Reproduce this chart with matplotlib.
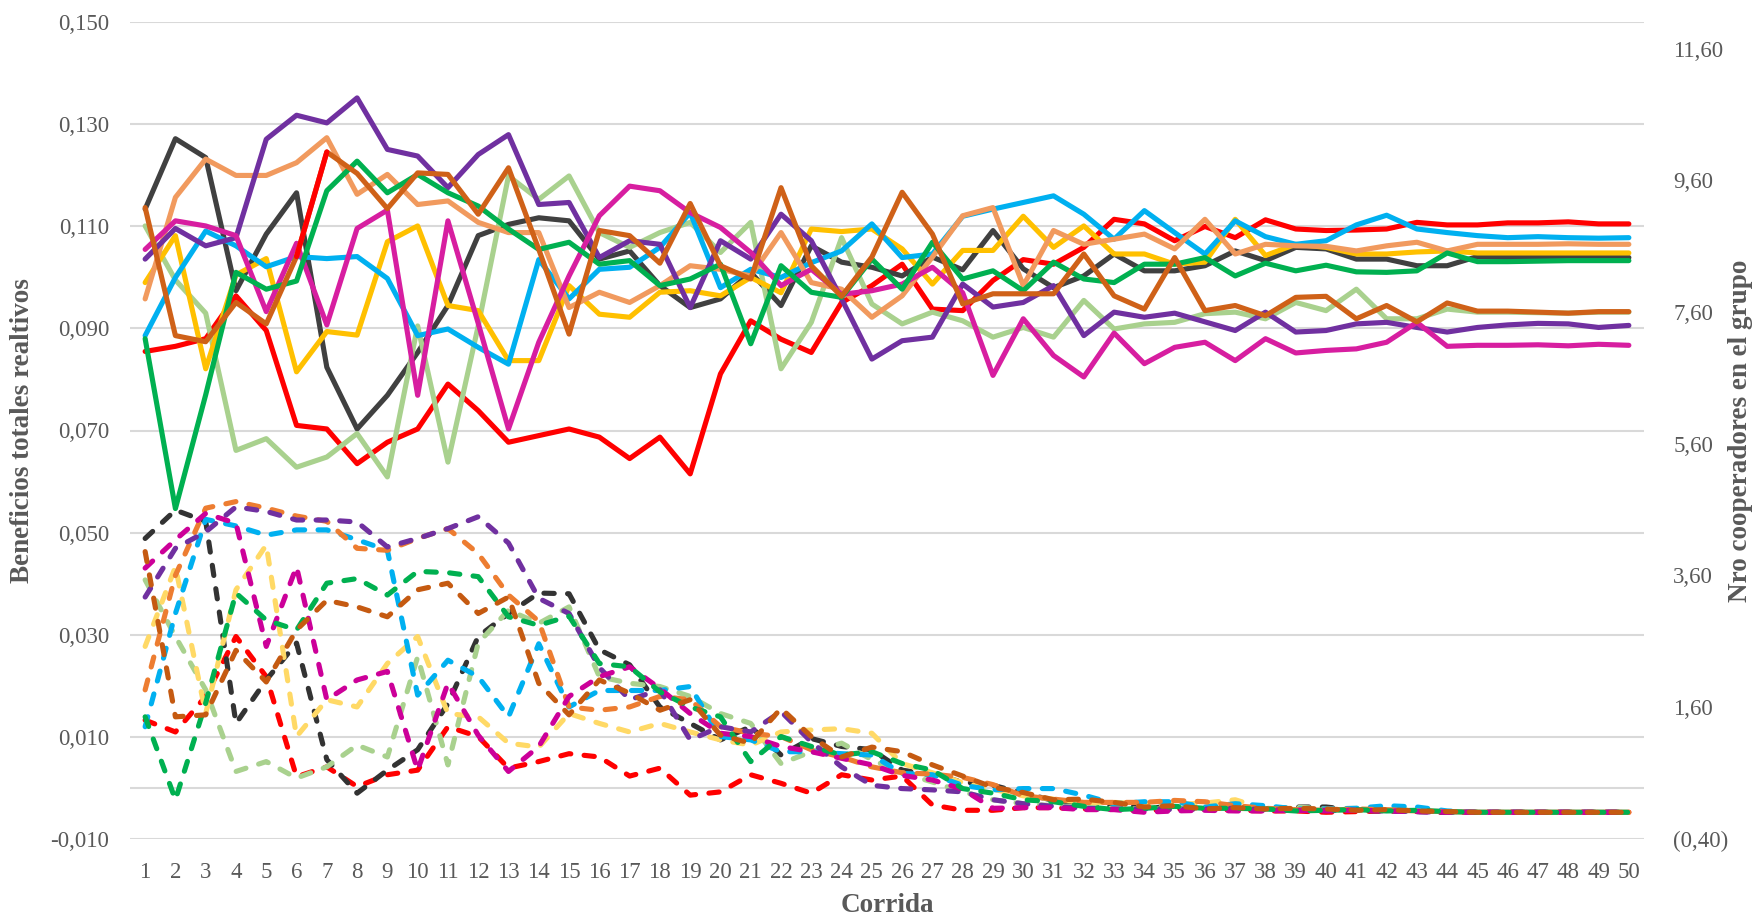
import matplotlib
matplotlib.use("Agg")
import matplotlib.pyplot as plt
from matplotlib.ticker import FuncFormatter, FixedLocator
import numpy as np

# ---------------- data ----------------
corrida = list(range(1, 51))

# Solid lines: beneficios totales relativos (left axis)
ben_red = [0.0855, 0.0865, 0.0880, 0.0964, 0.0896, 0.0710, 0.0703, 0.0635, 0.0677, 0.0703,
           0.0791, 0.0739, 0.0677, 0.0690, 0.0703, 0.0687, 0.0645, 0.0687, 0.0615, 0.0811,
           0.0915, 0.0879, 0.0853, 0.0951, 0.0984, 0.1026, 0.0938, 0.0935, 0.0994, 0.1035,
           0.1026, 0.1059, 0.1114, 0.1105, 0.1072, 0.1100, 0.1078, 0.1113, 0.1095, 0.1092,
           0.1093, 0.1095, 0.1108, 0.1103, 0.1103, 0.1107, 0.1107, 0.1109, 0.1105, 0.1105]
ben_black = [0.1134, 0.1272, 0.1235, 0.0974, 0.1085, 0.1166, 0.0824, 0.0703, 0.0769, 0.0853,
             0.0945, 0.1082, 0.1104, 0.1117, 0.1111, 0.1036, 0.1052, 0.0984, 0.0941, 0.0958,
             0.1010, 0.0945, 0.1062, 0.1030, 0.1020, 0.1003, 0.1040, 0.1015, 0.1092, 0.1017,
             0.0980, 0.1003, 0.1046, 0.1013, 0.1013, 0.1023, 0.1052, 0.1033, 0.1059, 0.1056,
             0.1036, 0.1036, 0.1023, 0.1023, 0.1041, 0.1039, 0.1039, 0.1040, 0.1040, 0.1039]
ben_lgreen = [0.1101, 0.0995, 0.0930, 0.0661, 0.0684, 0.0628, 0.0648, 0.0694, 0.0609, 0.0905,
              0.0638, 0.0905, 0.1199, 0.1153, 0.1199, 0.1088, 0.1059, 0.1088, 0.1108, 0.1049,
              0.1108, 0.0821, 0.0912, 0.1078, 0.0948, 0.0909, 0.0932, 0.0915, 0.0883, 0.0902,
              0.0883, 0.0955, 0.0899, 0.0909, 0.0912, 0.0929, 0.0932, 0.0919, 0.0951, 0.0935,
              0.0977, 0.0919, 0.0919, 0.0938, 0.0932, 0.0932, 0.0931, 0.0930, 0.0932, 0.0932]
ben_yellow = [0.0990, 0.1082, 0.0821, 0.1005, 0.1037, 0.0815, 0.0894, 0.0887, 0.1070, 0.1101,
              0.0945, 0.0935, 0.0837, 0.0837, 0.0984, 0.0928, 0.0922, 0.0971, 0.0974, 0.0964,
              0.1000, 0.0970, 0.1095, 0.1090, 0.1095, 0.1056, 0.0987, 0.1053, 0.1053, 0.1120,
              0.1059, 0.1101, 0.1046, 0.1046, 0.1026, 0.1030, 0.1114, 0.1043, 0.1065, 0.1059,
              0.1046, 0.1046, 0.1050, 0.1052, 0.1048, 0.1048, 0.1048, 0.1048, 0.1048, 0.1048]
ben_blue = [0.0886, 0.1000, 0.1091, 0.1062, 0.1021, 0.1041, 0.1037, 0.1041, 0.0998, 0.0886,
            0.0899, 0.0863, 0.0830, 0.1035, 0.0958, 0.1016, 0.1020, 0.1059, 0.1127, 0.0980,
            0.1016, 0.1000, 0.1029, 0.1052, 0.1105, 0.1039, 0.1046, 0.1120, 0.1134, 0.1147,
            0.1160, 0.1124, 0.1075, 0.1131, 0.1088, 0.1046, 0.1111, 0.1080, 0.1065, 0.1072,
            0.1103, 0.1122, 0.1095, 0.1088, 0.1082, 0.1078, 0.1080, 0.1078, 0.1077, 0.1078]
ben_salmon = [0.0958, 0.1157, 0.1232, 0.1200, 0.1200, 0.1225, 0.1274, 0.1163, 0.1202, 0.1143,
              0.1150, 0.1108, 0.1088, 0.1088, 0.0941, 0.0971, 0.0951, 0.0984, 0.1023, 0.1016,
              0.1003, 0.1088, 0.0990, 0.0977, 0.0922, 0.0964, 0.1040, 0.1121, 0.1137, 0.0984,
              0.1092, 0.1065, 0.1075, 0.1085, 0.1056, 0.1114, 0.1046, 0.1065, 0.1062, 0.1061,
              0.1052, 0.1062, 0.1069, 0.1052, 0.1065, 0.1065, 0.1065, 0.1066, 0.1065, 0.1065]
ben_purple = [0.1036, 0.1096, 0.1062, 0.1078, 0.1271, 0.1318, 0.1303, 0.1352, 0.1251, 0.1238,
              0.1176, 0.1241, 0.1280, 0.1143, 0.1147, 0.1039, 0.1072, 0.1065, 0.0941, 0.1072,
              0.1036, 0.1124, 0.1072, 0.0958, 0.0840, 0.0876, 0.0883, 0.0987, 0.0942, 0.0951,
              0.0984, 0.0886, 0.0932, 0.0922, 0.0930, 0.0913, 0.0896, 0.0932, 0.0893, 0.0896,
              0.0909, 0.0912, 0.0902, 0.0893, 0.0902, 0.0907, 0.0910, 0.0909, 0.0902, 0.0906]
ben_magenta = [0.1055, 0.1111, 0.1101, 0.1082, 0.0933, 0.1067, 0.0907, 0.1096, 0.1132, 0.0769,
               0.1111, 0.0910, 0.0703, 0.0873, 0.1003, 0.1121, 0.1179, 0.1170, 0.1127, 0.1098,
               0.1049, 0.0984, 0.1016, 0.0967, 0.0974, 0.0987, 0.1020, 0.0970, 0.0808, 0.0919,
               0.0847, 0.0805, 0.0891, 0.0831, 0.0863, 0.0873, 0.0837, 0.0880, 0.0852, 0.0857,
               0.0860, 0.0873, 0.0912, 0.0865, 0.0867, 0.0867, 0.0868, 0.0866, 0.0869, 0.0867]
ben_green = [0.0880, 0.0547, 0.0770, 0.1010, 0.0977, 0.0993, 0.1170, 0.1228, 0.1166, 0.1202,
             0.1166, 0.1140, 0.1095, 0.1055, 0.1069, 0.1026, 0.1033, 0.0984, 0.0997, 0.1026,
             0.0870, 0.1023, 0.0971, 0.0961, 0.1036, 0.0977, 0.1069, 0.0997, 0.1013, 0.0974,
             0.1030, 0.0997, 0.0990, 0.1026, 0.1026, 0.1039, 0.1003, 0.1028, 0.1013, 0.1024,
             0.1011, 0.1010, 0.1013, 0.1048, 0.1031, 0.1031, 0.1032, 0.1033, 0.1033, 0.1033]
ben_brown = [0.1137, 0.0886, 0.0874, 0.0951, 0.0909, 0.1041, 0.1246, 0.1204, 0.1135, 0.1205,
             0.1202, 0.1124, 0.1215, 0.1055, 0.0889, 0.1092, 0.1082, 0.1028, 0.1145, 0.1023,
             0.0997, 0.1176, 0.1023, 0.0963, 0.1040, 0.1167, 0.1085, 0.0948, 0.0968, 0.0968,
             0.0968, 0.1046, 0.0964, 0.0938, 0.1039, 0.0935, 0.0945, 0.0925, 0.0961, 0.0963,
             0.0919, 0.0945, 0.0913, 0.0950, 0.0934, 0.0934, 0.0932, 0.0930, 0.0933, 0.0933]

# Dashed lines: nro cooperadores en el grupo (right axis)
coop_red = [1.40, 1.22, 1.76, 2.67, 2.06, 0.54, 0.69, 0.39, 0.57, 0.64,
            1.30, 1.15, 0.67, 0.77, 0.89, 0.84, 0.55, 0.67, 0.26, 0.31,
            0.57, 0.44, 0.29, 0.57, 0.49, 0.55, 0.11, 0.03, 0.03, 0.07,
            0.07, 0.05, 0.05, 0.02, 0.05, 0.05, 0.03, 0.02, 0.02, 0.00,
            0.01, 0.02, 0.02, 0.00, 0.00, 0.00, 0.00, 0.00, 0.00, 0.00]
coop_black = [4.16, 4.59, 4.42, 1.35, 2.01, 2.57, 0.80, 0.29, 0.64, 0.95,
              1.65, 2.67, 3.02, 3.33, 3.32, 2.47, 2.24, 1.60, 1.35, 1.10,
              1.30, 0.87, 1.12, 1.00, 0.95, 0.64, 0.57, 0.46, 0.41, 0.29,
              0.18, 0.10, 0.09, 0.08, 0.06, 0.05, 0.05, 0.04, 0.08, 0.08,
              0.03, 0.02, 0.01, 0.00, 0.00, 0.00, 0.00, 0.00, 0.00, 0.00]
coop_lgreen = [3.53, 2.67, 1.86, 0.62, 0.77, 0.52, 0.69, 1.02, 0.84, 2.36,
               0.72, 2.57, 3.07, 2.87, 3.12, 2.06, 1.96, 1.91, 1.76, 1.50,
               1.35, 0.74, 0.92, 1.05, 0.80, 0.60, 0.46, 0.31, 0.19, 0.13,
               0.10, 0.08, 0.06, 0.05, 0.05, 0.06, 0.05, 0.03, 0.08, 0.05,
               0.06, 0.02, 0.03, 0.01, 0.00, 0.00, 0.00, 0.00, 0.00, 0.00]
coop_yellow = [2.52, 3.73, 1.50, 3.38, 4.06, 1.15, 1.71, 1.60, 2.26, 2.67,
               1.50, 1.45, 1.05, 0.99, 1.50, 1.35, 1.22, 1.35, 1.22, 1.10,
               1.02, 1.22, 1.25, 1.27, 1.20, 0.74, 0.60, 0.45, 0.35, 0.25,
               0.20, 0.15, 0.15, 0.13, 0.12, 0.14, 0.19, 0.05, 0.03, 0.04,
               0.03, 0.05, 0.03, 0.01, 0.00, 0.00, 0.00, 0.00, 0.00, 0.00]
coop_blue = [1.30, 3.02, 4.45, 4.35, 4.21, 4.29, 4.29, 4.14, 3.98, 1.78,
             2.31, 2.06, 1.45, 2.56, 1.60, 1.85, 1.85, 1.85, 1.91, 1.15,
             1.10, 0.92, 0.92, 0.89, 0.87, 0.59, 0.57, 0.41, 0.34, 0.36,
             0.36, 0.26, 0.13, 0.16, 0.16, 0.08, 0.13, 0.10, 0.05, 0.05,
             0.06, 0.10, 0.08, 0.02, 0.00, 0.00, 0.00, 0.00, 0.00, 0.00]
coop_orange = [1.86, 3.60, 4.62, 4.72, 4.62, 4.50, 4.42, 4.01, 3.98, 4.16,
               4.31, 3.93, 3.30, 2.90, 1.60, 1.55, 1.60, 1.76, 1.71, 1.30,
               1.20, 1.15, 0.95, 0.84, 0.69, 0.60, 0.58, 0.53, 0.42, 0.25,
               0.20, 0.15, 0.15, 0.15, 0.18, 0.16, 0.10, 0.06, 0.04, 0.03,
               0.05, 0.04, 0.02, 0.01, 0.00, 0.00, 0.00, 0.00, 0.00, 0.00]
coop_purple = [3.27, 4.01, 4.26, 4.64, 4.57, 4.44, 4.44, 4.41, 4.03, 4.16,
               4.31, 4.49, 4.09, 3.25, 3.02, 2.20, 1.71, 1.86, 1.10, 1.30,
               1.22, 1.53, 1.07, 0.69, 0.41, 0.36, 0.34, 0.31, 0.19, 0.13,
               0.09, 0.06, 0.05, 0.05, 0.04, 0.05, 0.06, 0.04, 0.03, 0.03,
               0.03, 0.02, 0.01, 0.00, 0.00, 0.00, 0.00, 0.00, 0.00, 0.00]
coop_magenta = [3.71, 4.14, 4.54, 4.39, 2.52, 3.73, 1.71, 2.01, 2.14, 0.64,
                1.96, 1.17, 0.62, 1.00, 1.76, 2.06, 2.21, 1.88, 1.50, 1.20,
                1.15, 1.00, 0.92, 0.82, 0.72, 0.56, 0.49, 0.35, 0.06, 0.07,
                0.07, 0.04, 0.04, 0.00, 0.02, 0.03, 0.02, 0.02, 0.03, 0.02,
                0.03, 0.02, 0.01, 0.00, 0.00, 0.00, 0.00, 0.00, 0.00, 0.00]
coop_green = [1.45, 0.19, 1.66, 3.33, 2.92, 2.77, 3.48, 3.55, 3.30, 3.66,
              3.64, 3.58, 2.97, 2.84, 2.98, 2.26, 2.21, 1.83, 1.60, 1.45,
              0.77, 1.15, 1.00, 0.87, 0.92, 0.74, 0.64, 0.36, 0.29, 0.19,
              0.16, 0.09, 0.04, 0.06, 0.09, 0.06, 0.06, 0.05, 0.02, 0.03,
              0.04, 0.02, 0.03, 0.01, 0.00, 0.00, 0.00, 0.00, 0.00, 0.00]
coop_brown = [3.96, 1.45, 1.48, 2.46, 1.98, 2.77, 3.22, 3.12, 2.97, 3.38,
              3.48, 3.02, 3.27, 1.96, 1.48, 2.01, 1.81, 1.55, 1.71, 1.17,
              1.05, 1.58, 1.15, 0.84, 0.99, 0.92, 0.72, 0.55, 0.38, 0.30,
              0.19, 0.20, 0.15, 0.08, 0.10, 0.05, 0.07, 0.05, 0.06, 0.05,
              0.03, 0.04, 0.02, 0.01, 0.00, 0.00, 0.00, 0.00, 0.00, 0.00]

left_ticks = [-0.010, 0.010, 0.030, 0.050, 0.070, 0.090, 0.110, 0.130, 0.150]
right_ticks = [-0.40, 1.60, 3.60, 5.60, 7.60, 9.60, 11.60]

solid_series = [
    (ben_red, '#FF0000'), (ben_black, '#404040'), (ben_lgreen, '#A9D18E'),
    (ben_yellow, '#FFC000'), (ben_blue, '#00B0F0'), (ben_salmon, '#F19A5E'),
    (ben_purple, '#7030A0'), (ben_magenta, '#D71EA0'), (ben_green, '#00B050'),
    (ben_brown, '#CF6118'),
]
dashed_series = [
    (coop_red, '#FF0000'), (coop_black, '#333333'), (coop_lgreen, '#A9D18E'),
    (coop_yellow, '#FFD966'), (coop_blue, '#00B0F0'), (coop_orange, '#ED7D31'),
    (coop_purple, '#7030A0'), (coop_magenta, '#CC0099'), (coop_green, '#00B050'),
    (coop_brown, '#C55A11'),
]

# ---------------- figure ----------------
FONT = 'Liberation Serif'
TXT = '#595959'
GRID = '#D9D9D9'

fig = plt.figure(figsize=(17.58, 9.18), dpi=100)
ax = fig.add_axes([130 / 1758, 1 - 838.6 / 918, 1514 / 1758, 816.2 / 918])
ax2 = ax.twinx()

for a in (ax, ax2):
    for s in a.spines.values():
        s.set_visible(False)
    a.tick_params(length=0)

ax.set_xlim(0.5, 50.5)
ax.set_ylim(-0.010, 0.150)
ax2.set_ylim(-0.40, 12.00)

ax.yaxis.set_major_locator(FixedLocator(left_ticks))
ax2.yaxis.set_major_locator(FixedLocator(right_ticks))
ax.set_xticks(corrida)
ax.set_xticklabels([str(c) for c in corrida])

ax.grid(axis='y', color=GRID, lw=1.5, zorder=0)
ax.grid(axis='x', visible=False)
ax.set_axisbelow(True)
ax.axhline(0.0, color=GRID, lw=1.5, zorder=0.5)

lw = 3.7
for vals, col in solid_series:
    ax.plot(corrida, vals, color=col, lw=lw, solid_joinstyle='round',
            solid_capstyle='round', zorder=2)
# segment 6-7 of the brown series is formatted in red in the original
ax.plot(corrida[5:7], ben_brown[5:7], color='#FF0000', lw=lw,
        solid_capstyle='round', zorder=2.1)

for vals, col in dashed_series:
    ax2.plot(corrida, vals, color=col, lw=lw, dashes=(2.0, 2.6),
             dash_capstyle='round', dash_joinstyle='round', zorder=3)


def fmt_left(v, pos):
    return f"{v:.3f}".replace('.', ',')


def fmt_right(v, pos):
    if v < 0:
        return f"({abs(v):.2f})".replace('.', ',')
    return f"{v:.2f}".replace('.', ',')


ax.yaxis.set_major_formatter(FuncFormatter(fmt_left))
ax2.yaxis.set_major_formatter(FuncFormatter(fmt_right))

ax.tick_params(axis='y', labelsize=16.5, labelcolor=TXT, pad=15)
ax.tick_params(axis='x', labelsize=16.5, labelcolor=TXT, pad=17)
ax2.tick_params(axis='y', labelsize=16.5, labelcolor=TXT, pad=21)
for lab in ax.get_xticklabels() + ax.get_yticklabels() + ax2.get_yticklabels():
    lab.set_fontfamily(FONT)

ax.set_xlabel('Corrida', fontsize=19.5, fontweight='bold', color=TXT, family=FONT)
ax.set_ylabel('Beneficios totales realtivos', fontsize=19.5, fontweight='bold',
              color=TXT, family=FONT)
ax2.set_ylabel('Nro cooperadores en el grupo', fontsize=19.5, fontweight='bold',
               color=TXT, family=FONT, rotation=90)
ax.xaxis.set_label_coords(0.5, (838.6 - 906) / 816.2)
ax.yaxis.set_label_coords((22 - 130) / 1514, 0.5)
ax2.yaxis.set_label_coords((1741 - 130) / 1514, 0.5)
ax.xaxis.label.set_verticalalignment('center')
ax.yaxis.label.set_verticalalignment('center')
ax2.yaxis.label.set_verticalalignment('center')

fig.savefig('out.png', dpi=100, facecolor='white')
